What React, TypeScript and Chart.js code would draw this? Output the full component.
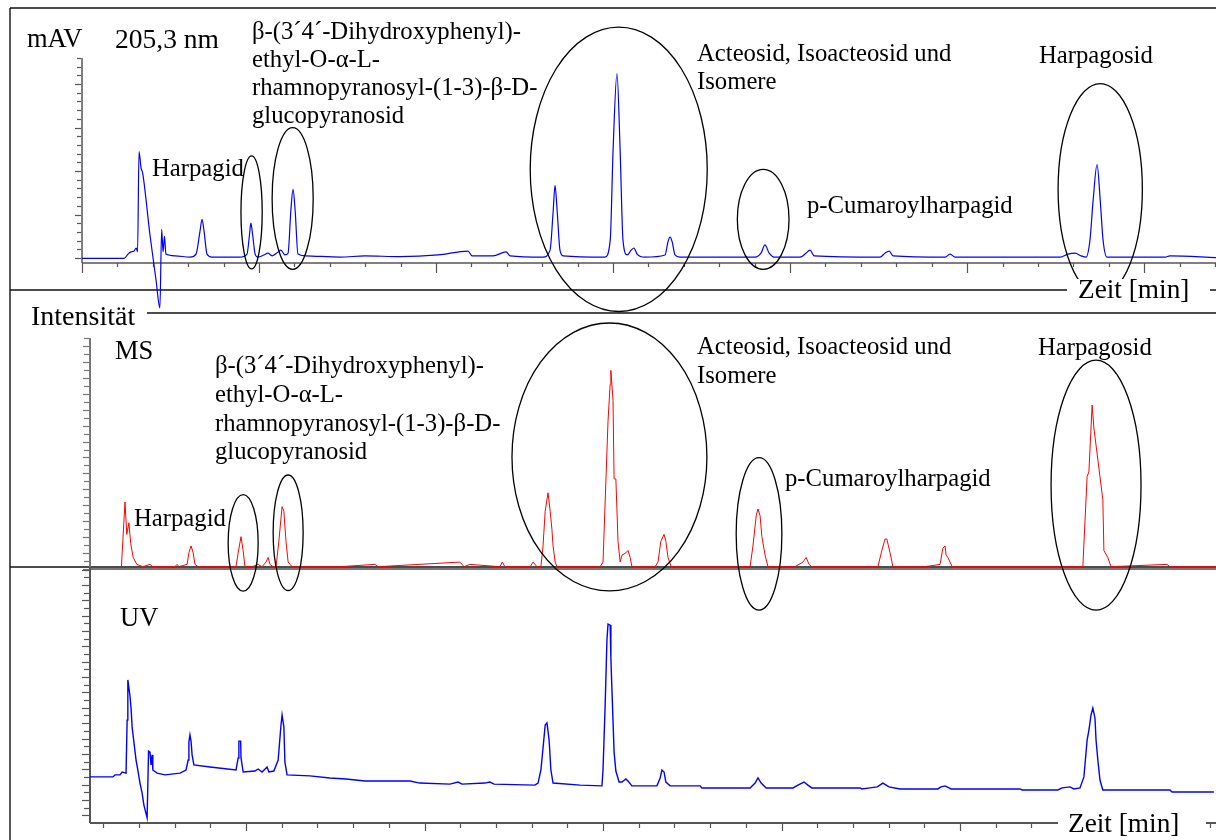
import React, { useEffect, useRef } from "react";
import { Chart, registerables } from "chart.js";

Chart.register(...registerables);

const W = 1216;
const H = 840;
const SERIF = '"Liberation Serif", "Times New Roman", Times, serif';
const LBL = 24.7;

// ---------- DAD trace, 205,3 nm (time in min, absorbance in mAU) ----------
const dadTime = [
  0, 1.19, 1.3, 1.38, 1.47, 1.53, 1.57, 1.61, 1.67, 1.71,
  1.92, 2.09, 2.2, 2.25, 2.29, 2.33, 2.37, 2.63, 3.05, 3.22,
  3.33, 3.39, 3.45, 3.53, 3.67, 4.46, 4.66, 4.73, 4.77, 4.82,
  4.89, 4.97, 5.14, 5.25, 5.37, 5.54, 5.62, 5.73, 5.82, 5.9,
  5.96, 6.02, 6.1, 6.3, 7.29, 7.99, 8.98, 10.06, 10.9, 11.02,
  11.61, 11.98, 12.09, 13.02, 13.22, 13.31, 13.36, 13.42, 13.5, 13.59,
  14.77, 14.92, 15.0, 15.11, 15.2, 15.28, 15.4, 15.51, 15.59, 15.68,
  15.9, 16.47, 16.55, 16.61, 16.67, 16.75, 16.89, 19.01, 19.18, 19.29,
  19.41, 19.55, 20.28, 20.45, 20.56, 20.68, 22.54, 22.68, 22.8, 22.91,
  24.38, 24.52, 24.66, 27.63, 27.85, 28.05, 28.22, 28.36, 28.47, 28.56,
  28.67, 28.76, 28.84, 28.95, 30.59, 30.73, 32.03,
];
const dadMAU = [
  -1, -1, 9, 14, 16, 23, 14, 245, 206, 197,
  53, -50, -115, 66, 14, 50, 9, 5, 2, 9,
  60, 89, 60, 9, 2, 2, 9, 53, 80, 53,
  9, 2, 7, 11, 5, 14, 18, 7, 11, 110,
  158, 110, 9, 5, 2, 5, 3, 7, 16, 5,
  5, 14, 5, 2, 18, 110, 167, 110, 18, 5,
  2, 41, 247, 424, 247, 41, 7, 18, 23, 9,
  2, 7, 37, 48, 37, 7, 2, 2, 11, 30,
  11, 2, 2, 11, 18, 5, 2, 11, 16, 5,
  2, 9, 2, 2, 9, 11, 5, 2, 41, 133,
  215, 133, 41, 2, 2, 5, 1,
];

// ---------- MS trace (time in min, relative intensity) ----------
const msTime = [
  1.51, 1.61, 1.66, 1.72, 1.77, 1.84, 1.94, 2.11, 2.31, 2.39,
  3.01, 3.07, 3.12, 3.35, 3.4, 3.46, 3.52, 3.57, 3.66, 4.55,
  4.72, 4.78, 4.86, 4.92, 4.97, 5.17, 5.34, 5.45, 5.56, 5.62,
  5.67, 5.76, 5.84, 5.92, 6.01, 6.06, 6.12, 6.18, 6.29, 7.07,
  7.63, 8.61, 8.7, 10.99, 11.11, 11.27, 12.11, 12.18, 12.25, 12.96,
  13.04, 13.15, 13.26, 13.32, 13.38, 13.46, 13.52, 13.57, 13.6, 13.66,
  13.71, 14.92, 15.0, 15.08, 15.14, 15.2, 15.22, 15.28, 15.31, 15.36,
  15.42, 15.48, 15.53, 15.64, 15.7, 15.76, 15.81, 16.46, 16.54, 16.62,
  16.71, 16.76, 16.82, 16.91, 19.12, 19.2, 19.29, 19.34, 19.4, 19.45,
  19.54, 19.62, 20.38, 20.6, 20.69, 20.77, 20.85, 22.48, 22.7, 22.81,
  22.9, 22.95, 23.04, 23.12, 24.02, 24.44, 24.52, 24.58, 24.61, 24.66,
  24.78, 28.44, 28.56, 28.61, 28.7, 28.75, 29.0, 29.03, 29.14, 29.23,
  30.8, 30.88, 32.17,
];
const msIntensity = [
  1, 29, 15, 20, 11, 5, 2, 1, 2, 1,
  1, 2, 1, 2, 7, 10, 7, 2, 1, 1,
  1, 7, 14, 8, 1, 1, 2, 1, 3, 5,
  2, 1, 1, 12, 27, 25, 12, 3, 1, 1,
  1, 2, 1, 3, 1, 2, 1, 3, 1, 1,
  3, 1, 1, 10, 25, 33, 25, 17, 10, 3,
  1, 1, 3, 38, 64, 80, 86, 73, 39, 39,
  12, 3, 6, 7, 8, 5, 1, 1, 3, 12,
  15, 12, 5, 1, 1, 10, 23, 26, 23, 14,
  6, 1, 1, 3, 5, 2, 1, 1, 1, 8,
  13, 13, 7, 1, 1, 2, 9, 10, 6, 5,
  1, 1, 40, 42, 71, 61, 30, 8, 5, 1,
  2, 1, 1,
];

// ---------- UV trace (time in min, relative absorbance) ----------
const uvTime = [
  0.63, 1.27, 1.33, 1.47, 1.53, 1.64, 1.67, 1.69, 1.75, 1.78,
  1.81, 1.86, 1.92, 1.97, 2.03, 2.09, 2.14, 2.23, 2.25, 2.27,
  2.31, 2.34, 2.37, 2.39, 2.51, 2.73, 3.15, 3.32, 3.38, 3.4,
  3.43, 3.46, 3.49, 3.54, 3.99, 4.72, 4.78, 4.8, 4.85, 4.86,
  4.92, 5.25, 5.34, 5.45, 5.59, 5.64, 5.78, 5.9, 5.98, 6.01,
  6.06, 6.09, 6.15, 6.79, 7.35, 7.8, 8.33, 8.7, 9.59, 9.87,
  10.71, 10.94, 11.05, 11.69, 11.83, 11.95, 13.09, 13.18, 13.26, 13.32,
  13.38, 13.43, 13.49, 13.54, 13.6, 14.36, 14.97, 15.0, 15.06, 15.11,
  15.14, 15.2, 15.22, 15.25, 15.31, 15.36, 15.45, 15.53, 15.64, 15.7,
  15.81, 16.51, 16.6, 16.65, 16.71, 16.76, 16.88, 17.72, 17.77, 19.12,
  19.26, 19.34, 19.43, 19.57, 20.32, 20.46, 20.63, 20.74, 20.85, 22.2,
  22.25, 22.48, 22.68, 22.84, 23.01, 23.32, 24.38, 24.47, 24.58, 24.75,
  26.68, 26.74, 27.74, 27.86, 28.08, 28.19, 28.36, 28.47, 28.56, 28.61,
  28.67, 28.72, 28.78, 28.81, 28.86, 28.92, 29.0, 30.88, 30.94, 32.11,
];
const uvAbs = [
  18.0, 18.0, 18.8, 18.8, 19.9, 19.5, 40.2, 55.9, 49.6, 44.9,
  37.5, 31.6, 24.6, 20.7, 15.6, 11.7, 7.0, 2.0, 2.0, 28.1,
  27.7, 22.7, 26.6, 20.7, 19.5, 18.8, 19.5, 20.7, 24.6, 31.6,
  34.4, 32.0, 26.6, 22.7, 21.9, 20.7, 25.4, 32.0, 32.0, 25.4,
  19.9, 20.3, 21.1, 19.9, 21.9, 19.9, 20.3, 24.6, 38.3, 42.2,
  37.5, 23.8, 18.8, 18.4, 17.6, 17.2, 16.4, 16.4, 16.4, 15.6,
  15.2, 16.0, 15.2, 15.6, 16.0, 15.2, 14.8, 15.6, 20.7, 29.3,
  38.3, 39.1, 32.4, 20.7, 15.6, 14.8, 14.5, 20.7, 46.1, 71.5,
  77.7, 77.3, 64.5, 52.0, 27.7, 20.3, 16.0, 16.0, 17.2, 16.4,
  14.5, 14.5, 17.6, 20.7, 19.9, 16.0, 14.5, 14.5, 13.7, 13.7,
  15.6, 17.6, 15.6, 13.7, 13.7, 14.8, 16.0, 14.8, 13.7, 13.7,
  13.3, 13.7, 14.1, 15.6, 14.1, 13.3, 13.3, 14.1, 14.5, 13.3,
  13.3, 12.9, 12.9, 13.7, 14.1, 13.3, 13.7, 18.0, 32.4, 36.3,
  42.2, 44.9, 41.0, 32.4, 24.6, 16.8, 12.9, 12.9, 12.1, 12.1,
];

// Compound names
const compoundBeta = [
  "β-(3´4´-Dihydroxyphenyl)-",
  "ethyl-O-α-L-",
  "rhamnopyranosyl-(1-3)-β-D-",
  "glucopyranosid",
];

type Ellipse = { t: number; v: number; rt: number; rv: number };
type Label = { text: string; x: number; y: number; size: number; bg?: number[] };
type TickCfg = { from: number; to: number; step: number; majorEvery: number; minorLen: number; majorLen: number };
type PanelCfg = {
  time: number[];
  values: number[];
  color: string;
  width: number;
  smooth: boolean;
  area: { left: number; top: number; right: number; bottom: number };
  x: { min: number; max: number };
  y: { min: number; max: number };
  axisColor: string;
  axisWidth: number;
  xAxisLine: boolean;
  xTicks?: TickCfg;
  yTicks: TickCfg;
  ellipses: Ellipse[];
  labels: Label[];
  frame?: (ctx: CanvasRenderingContext2D) => void;
};

const betaLabels = (x: number, ys: number[]): Label[] =>
  compoundBeta.map((t, i) => ({ text: t, x, y: ys[i], size: LBL }));

const topPanel: PanelCfg = {
  time: dadTime,
  values: dadMAU,
  color: "#0000ff",
  width: 1.2,
  smooth: true,
  area: { left: 82, top: 58, right: 1216, bottom: 263 },
  x: { min: 0, max: 32.03 },
  y: { min: -11.5, max: 460 },
  axisColor: "#555",
  axisWidth: 1.5,
  xAxisLine: true,
  xTicks: { from: 0, to: 32, step: 1, majorEvery: 5, minorLen: 4, majorLen: 10 },
  yTicks: { from: 0, to: 460, step: 20, majorEvery: 5, minorLen: 4, majorLen: 6 },
  ellipses: [
    { t: 4.79, v: 105, rt: 0.3, rv: 130 },
    { t: 5.95, v: 137, rt: 0.58, rv: 163 },
    { t: 15.16, v: 204, rt: 2.5, rv: 327 },
    { t: 19.24, v: 89, rt: 0.73, rv: 115 },
    { t: 28.76, v: 158, rt: 1.19, rv: 243 },
  ],
  labels: [
    { text: "mAV", x: 27, y: 47, size: 26.5 },
    { text: "205,3 nm", x: 115, y: 48, size: 27.5 },
    ...betaLabels(252, [39, 67, 95, 123]),
    { text: "Harpagid", x: 152, y: 176, size: LBL },
    { text: "Acteosid, Isoacteosid und", x: 697, y: 61, size: LBL },
    { text: "Isomere", x: 697, y: 89, size: LBL },
    { text: "p-Cumaroylharpagid", x: 807, y: 213, size: LBL },
    { text: "Harpagosid", x: 1039, y: 63, size: LBL },
    { text: "Intensität", x: 31, y: 325, size: 28 },
    { text: "Zeit [min]", x: 1078, y: 298, size: 27.3, bg: [1067, 279, 143, 24] },
  ],
  frame: (ctx) => {
    ctx.strokeStyle = "#111";
    ctx.lineWidth = 1.4;
    const seg = (x1: number, y1: number, x2: number, y2: number) => {
      ctx.beginPath();
      ctx.moveTo(x1, y1);
      ctx.lineTo(x2, y2);
      ctx.stroke();
    };
    seg(10, 8, W, 8);
    seg(10, 8, 10, H);
    seg(10, 290, W, 290);
    seg(147, 313, W, 313);
    seg(10, 567, W, 567);
  },
};

const msPanel: PanelCfg = {
  time: msTime,
  values: msIntensity,
  color: "#ff0000",
  width: 1,
  smooth: false,
  area: { left: 90, top: 338, right: 1216, bottom: 569 },
  x: { min: 0.63, max: 32.17 },
  y: { min: 0, max: 100 },
  axisColor: "#777",
  axisWidth: 2,
  xAxisLine: true,
  yTicks: { from: 0, to: 100, step: 100 / 29, majorEvery: 2, minorLen: 5, majorLen: 6 },
  ellipses: [
    { t: 4.92, v: 11.3, rt: 0.42, rv: 20.9 },
    { t: 6.18, v: 15.7, rt: 0.42, rv: 25 },
    { t: 15.18, v: 48.5, rt: 2.73, rv: 58 },
    { t: 19.37, v: 15.2, rt: 0.64, rv: 33 },
    { t: 28.81, v: 36.3, rt: 1.26, rv: 54.1 },
  ],
  labels: [
    { text: "MS", x: 115, y: 359, size: 26.5 },
    ...betaLabels(215, [373, 402, 431, 459]),
    { text: "Harpagid", x: 134, y: 526, size: LBL },
    { text: "Acteosid, Isoacteosid und", x: 697, y: 354, size: LBL },
    { text: "Isomere", x: 697, y: 383, size: LBL },
    { text: "p-Cumaroylharpagid", x: 785, y: 486, size: LBL },
    { text: "Harpagosid", x: 1038, y: 355, size: LBL },
  ],
};

const uvPanel: PanelCfg = {
  time: uvTime,
  values: uvAbs,
  color: "#0000ff",
  width: 1.4,
  smooth: false,
  area: { left: 90, top: 567, right: 1216, bottom: 823 },
  x: { min: 0.63, max: 32.17 },
  y: { min: 0, max: 100 },
  axisColor: "#555",
  axisWidth: 2,
  xAxisLine: true,
  xTicks: { from: 1, to: 32, step: 1, majorEvery: 5, minorLen: 5, majorLen: 8 },
  yTicks: { from: 3, to: 99, step: 3, majorEvery: 2, minorLen: 5, majorLen: 7 },
  ellipses: [],
  labels: [
    { text: "UV", x: 120, y: 626, size: 26.5 },
    { text: "Zeit [min]", x: 1068, y: 832, size: 27.3, bg: [1058, 812, 148, 28] },
  ],
};

function panelPlugin(cfg: PanelCfg) {
  return {
    id: "panelDecor",
    beforeDatasetsDraw(chart: any) {
      const ctx: CanvasRenderingContext2D = chart.ctx;
      const xs = chart.scales.x;
      const ys = chart.scales.y;
      const a = chart.chartArea;
      ctx.save();
      if (cfg.frame) cfg.frame(ctx);
      ctx.strokeStyle = cfg.axisColor;
      ctx.lineWidth = cfg.axisWidth;
      ctx.beginPath();
      ctx.moveTo(a.left, a.top);
      ctx.lineTo(a.left, a.bottom);
      if (cfg.xAxisLine) {
        ctx.moveTo(a.left, a.bottom);
        ctx.lineTo(a.right, a.bottom);
      }
      ctx.stroke();
      ctx.lineWidth = 1.2;
      const yt = cfg.yTicks;
      let i = 0;
      for (let v = yt.from; v <= yt.to + 1e-6; v += yt.step, i++) {
        const py = Math.round(ys.getPixelForValue(v)) + 0.5;
        const len = i % yt.majorEvery === 0 ? yt.majorLen : yt.minorLen;
        ctx.beginPath();
        ctx.moveTo(a.left - len - 1, py);
        ctx.lineTo(a.left - 1, py);
        ctx.stroke();
      }
      if (cfg.xTicks) {
        const xt = cfg.xTicks;
        for (let v = xt.from; v <= xt.to + 1e-6; v += xt.step) {
          const px = Math.round(xs.getPixelForValue(v)) + 0.5;
          const len = Math.round(v) % xt.majorEvery === 0 ? xt.majorLen : xt.minorLen;
          ctx.beginPath();
          ctx.moveTo(px, a.bottom);
          ctx.lineTo(px, a.bottom + len);
          ctx.stroke();
        }
      }
      ctx.restore();
    },
    afterDatasetsDraw(chart: any) {
      const ctx: CanvasRenderingContext2D = chart.ctx;
      const xs = chart.scales.x;
      const ys = chart.scales.y;
      ctx.save();
      ctx.strokeStyle = "#000";
      ctx.lineWidth = 1.3;
      for (const e of cfg.ellipses) {
        const cx = xs.getPixelForValue(e.t);
        const cy = ys.getPixelForValue(e.v);
        const rx = Math.abs(xs.getPixelForValue(e.t + e.rt) - cx);
        const ry = Math.abs(ys.getPixelForValue(e.v + e.rv) - cy);
        ctx.beginPath();
        ctx.ellipse(cx, cy, rx, ry, 0, 0, Math.PI * 2);
        ctx.stroke();
      }
      ctx.textBaseline = "alphabetic";
      ctx.textAlign = "left";
      for (const l of cfg.labels) {
        if (l.bg) {
          ctx.fillStyle = "#fff";
          ctx.fillRect(l.bg[0], l.bg[1], l.bg[2], l.bg[3]);
        }
        ctx.fillStyle = "#000";
        ctx.font = `${l.size}px ${SERIF}`;
        ctx.fillText(l.text, l.x, l.y);
      }
      ctx.restore();
    },
  };
}

function makeChart(canvas: HTMLCanvasElement, cfg: PanelCfg) {
  const pts = cfg.time.map((t, i) => ({ x: t, y: cfg.values[i] }));
  return new Chart(canvas, {
    type: "line",
    data: {
      datasets: [
        {
          data: pts,
          borderColor: cfg.color,
          borderWidth: cfg.width,
          pointRadius: 0,
          fill: false,
          tension: 0,
          cubicInterpolationMode: cfg.smooth ? "monotone" : "default",
          clip: false as any,
        } as any,
      ],
    },
    options: {
      responsive: false,
      maintainAspectRatio: false,
      animation: false,
      devicePixelRatio: 1,
      events: [],
      layout: {
        padding: {
          left: cfg.area.left,
          top: cfg.area.top,
          right: W - cfg.area.right,
          bottom: H - cfg.area.bottom,
        },
      },
      scales: {
        x: { type: "linear", min: cfg.x.min, max: cfg.x.max, display: false },
        y: { type: "linear", min: cfg.y.min, max: cfg.y.max, display: false },
      },
      plugins: { legend: { display: false }, tooltip: { enabled: false } },
    },
    plugins: [panelPlugin(cfg) as any],
  });
}

export default function App() {
  const r1 = useRef<HTMLCanvasElement>(null);
  const r2 = useRef<HTMLCanvasElement>(null);
  const r3 = useRef<HTMLCanvasElement>(null);

  useEffect(() => {
    const charts = [
      makeChart(r1.current!, topPanel),
      makeChart(r2.current!, msPanel),
      makeChart(r3.current!, uvPanel),
    ];
    return () => charts.forEach((c) => c.destroy());
  }, []);

  const cs: React.CSSProperties = { position: "absolute", left: 0, top: 0, width: W, height: H };
  return (
    <div style={{ position: "absolute", left: 0, top: 0, width: W, height: H, background: "#fff", overflow: "hidden" }}>
      <canvas ref={r1} width={W} height={H} style={cs} />
      <canvas ref={r2} width={W} height={H} style={cs} />
      <canvas ref={r3} width={W} height={H} style={cs} />
    </div>
  );
}
